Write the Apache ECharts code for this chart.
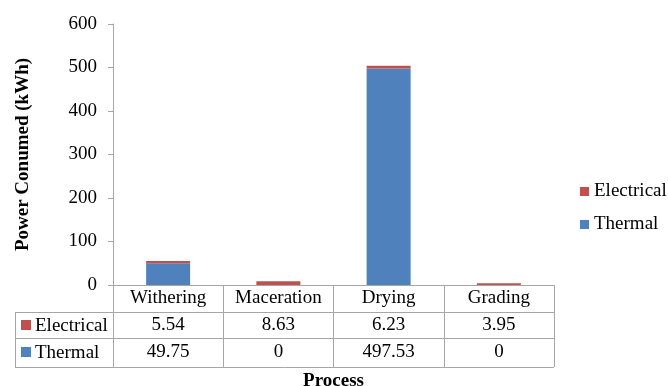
<!DOCTYPE html>
<html>
<head>
<meta charset="utf-8">
<script src="https://cdn.jsdelivr.net/npm/echarts@6/dist/echarts.min.js"></script>
<style>
  html, body { margin: 0; padding: 0; background: #fff; }
  #main { width: 668px; height: 386px; }
</style>
</head>
<body>
<div id="main"></div>
<script>
// process steps and power use (kWh)
var categories = ['Withering', 'Maceration', 'Drying', 'Grading'];
var electrical = [5.54, 8.63, 6.23, 3.95];
var thermal = [49.75, 0, 497.53, 0];
var yTicks = [0, 100, 200, 300, 400, 500, 600];

var FONT = 'Liberation Serif';
var RED = '#C0504D';
var BLUE = '#4F81BD';
var LINE = '#A6A6A6';

var chart = echarts.init(document.getElementById('main'));

// table borders (below the axis)
var tableLeft = 15, tableRight = 554;
var rowY = [312, 338, 367];

var option = {
    backgroundColor: '#fff',
    animation: false,
    textStyle: { fontFamily: FONT },
    grid: { left: 113, right: 114, top: 24, bottom: 101, containLabel: false, outerBoundsMode: 'none' },
    legend: {
        orient: 'vertical',
        left: 580,
        top: 182,
        padding: 0,
        itemWidth: 9,
        itemHeight: 9,
        itemGap: 14,
        icon: 'rect',
        data: ['Electrical', 'Thermal'],
        textStyle: { fontFamily: FONT, fontSize: 19, color: '#000' }
    },
    xAxis: {
        type: 'category',
        data: categories,
        name: 'Process',
        nameLocation: 'middle',
        nameGap: 87,
        nameTextStyle: { fontFamily: FONT, fontSize: 19, fontWeight: 'bold', color: '#000' },
        axisLine: { show: true, lineStyle: { color: LINE, width: 1 } },
        axisTick: { show: true, length: 82, lineStyle: { color: LINE } },
        axisLabel: {
            interval: 0,
            margin: 0,
            formatter: function (v, i) {
                return v + '\n' + electrical[i] + '\n' + thermal[i];
            },
            fontFamily: FONT,
            fontSize: 19,
            lineHeight: 27,
            color: '#000'
        }
    },
    yAxis: {
        type: 'value',
        min: 0,
        max: 600,
        interval: 100,
        name: 'Power Conumed (kWh)',
        nameLocation: 'middle',
        nameGap: 80,
        nameTextStyle: { fontFamily: FONT, fontSize: 19, fontWeight: 'bold', color: '#000' },
        axisLine: { show: true, lineStyle: { color: LINE } },
        axisTick: { show: true, length: 5, lineStyle: { color: LINE } },
        splitLine: { show: false },
        axisLabel: {
            margin: 16,
            fontFamily: FONT,
            fontSize: 19,
            color: '#000',
            formatter: function (v) { return yTicks.indexOf(v) >= 0 ? v : ''; }
        }
    },
    series: [
        {
            name: 'Thermal',
            type: 'bar',
            stack: 'power',
            barWidth: 44,
            itemStyle: { color: BLUE },
            data: thermal
        },
        {
            name: 'Electrical',
            type: 'bar',
            stack: 'power',
            barWidth: 44,
            itemStyle: { color: RED },
            data: electrical
        }
    ],
    graphic: [
        // horizontal lines of the data table
        { type: 'line', shape: { x1: tableLeft, y1: rowY[0] + 0.5, x2: tableRight, y2: rowY[0] + 0.5 }, style: { stroke: LINE, lineWidth: 1 } },
        { type: 'line', shape: { x1: tableLeft, y1: rowY[1] + 0.5, x2: tableRight, y2: rowY[1] + 0.5 }, style: { stroke: LINE, lineWidth: 1 } },
        { type: 'line', shape: { x1: tableLeft, y1: rowY[2] + 0.5, x2: tableRight, y2: rowY[2] + 0.5 }, style: { stroke: LINE, lineWidth: 1 } },
        { type: 'line', shape: { x1: tableLeft + 0.5, y1: rowY[0], x2: tableLeft + 0.5, y2: rowY[2] }, style: { stroke: LINE, lineWidth: 1 } },
        // row headers
        { type: 'rect', shape: { x: 21, y: 320, width: 10, height: 10 }, style: { fill: RED } },
        { type: 'text', x: 35, y: 326, style: { text: 'Electrical', font: '19px ' + FONT, fill: '#000', verticalAlign: 'middle' } },
        { type: 'rect', shape: { x: 21, y: 347, width: 10, height: 10 }, style: { fill: BLUE } },
        { type: 'text', x: 35, y: 353, style: { text: 'Thermal', font: '19px ' + FONT, fill: '#000', verticalAlign: 'middle' } }
    ]
};

chart.setOption(option);
</script>
</body>
</html>
